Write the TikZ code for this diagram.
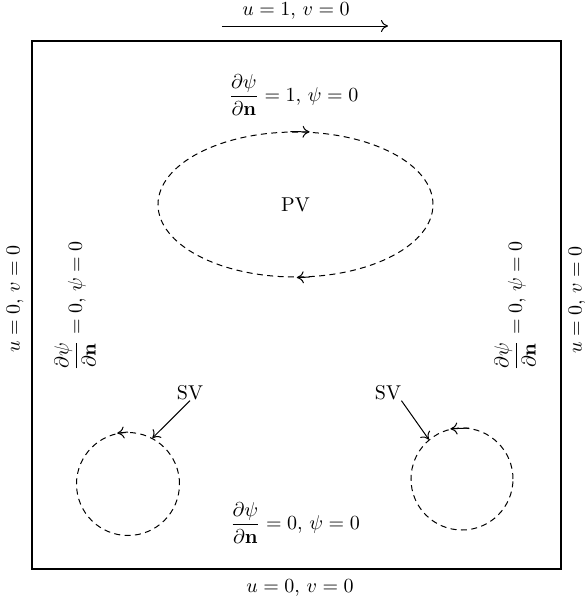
\documentclass[tikz,border=0pt]{standalone}
\usepackage{amsmath,amssymb}
\usetikzlibrary{arrows.meta,shapes.geometric}
\tikzset{
  ar/.style={-{To[length=3.5pt,width=6pt]},line width=0.5pt},
  frame/.style={draw,line width=0.8pt,inner sep=0pt},
  vort/.style={draw,dash pattern=on 3pt off 2.2pt,line width=0.5pt,inner sep=0pt},
  lab/.style={inner sep=0pt,font=\normalsize},
}

\begin{document}
\begin{tikzpicture}[x=0.5pt,y=-0.5pt]
    \useasboundingbox (0,0) rectangle (585,602);
    \node[frame,minimum width=264.5pt,minimum height=264pt] (cav) at (296.5,305) {};
    \coordinate (lidA) at (222,26);
    \coordinate (lidB) at (388,26);
    \draw[ar] (lidA) -- (lidB);
    \node[lab] (lid) at (296,11) {$u=1$, $v=0$};
    \node[lab] (floor) at (300,588) {$u=0$, $v=0$};
    \node[lab,rotate=90] (wallL) at (15,299) {$u=0$, $v=0$};
    \node[lab,rotate=90] (wallR) at (577,300) {$u=0$, $v=0$};
    \node[lab] (bcT) at (293.5,95) {$\dfrac{\partial\psi}{\partial\mathbf{n}}=1$, $\psi=0$};
    \node[lab] (bcB) at (295,523) {$\dfrac{\partial\psi}{\partial\mathbf{n}}=0$, $\psi=0$};
    \node[lab,rotate=90] (bcL) at (75,306) {$\dfrac{\partial\psi}{\partial\mathbf{n}}=0$, $\psi=0$};
    \node[lab,rotate=90] (bcR) at (515,306) {$\dfrac{\partial\psi}{\partial\mathbf{n}}=0$, $\psi=0$};
    \node[vort,ellipse,minimum width=137.5pt,minimum height=72.5pt] (pv) at (295.5,204.5) {PV};
    \draw[ar] (pv.94) -- (pv.79);
    \draw[ar] (pv.-79) -- (pv.-89);
    \node[vort,circle,minimum size=51.5pt] (cl) at (128,484) {};
    \node[vort,circle,minimum size=51pt] (cr) at (462,479) {};
    \draw[ar] (cl.90) -- (cl.102);
    \draw[ar] (cr.82) -- (cr.103);
    \node[lab] (svL) at (190,393) {SV};
    \node[lab] (svR) at (388,393) {SV};
    \draw[ar] (svL.south) -- (cl.62);
    \draw[ar] (svR.south east) -- (cr.130);
\end{tikzpicture}
\end{document}
